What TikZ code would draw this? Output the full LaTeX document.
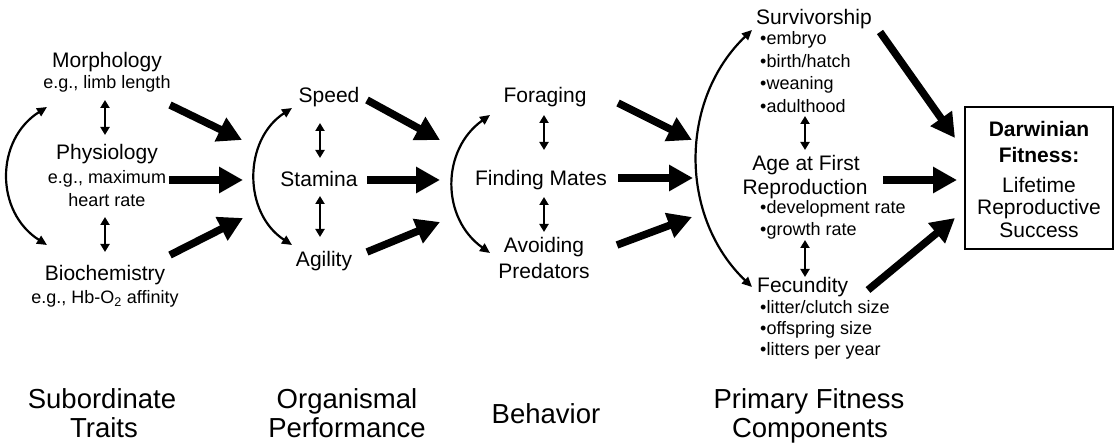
\documentclass[tikz,border=0pt]{standalone}
\usepackage{fontspec}
\setmainfont{Liberation Sans}
\usetikzlibrary{arrows.meta}
\begin{document}
\begin{tikzpicture}[x=1pt,y=-1pt,
  lab/.style={font=\fontsize{21}{25}\selectfont, anchor=base, inner sep=0pt},
  sub/.style={font=\fontsize{18}{22}\selectfont, anchor=base, inner sep=0pt},
  bul/.style={font=\fontsize{18}{22}\selectfont, anchor=base west, inner sep=0pt},
  big/.style={font=\fontsize{27.5}{30}\selectfont, anchor=base, inner sep=0pt},
  bld/.style={font=\fontsize{21}{25}\selectfont\bfseries, anchor=base, inner sep=0pt},
  thick arrow/.style={line width=7.5pt, -{Triangle[length=24pt,width=25pt]}},
  dbl/.style={line width=2.1pt, {Triangle[length=8pt,width=9pt]}-{Triangle[length=8pt,width=9pt]}},
  curv/.style={line width=2.2pt, {Triangle[length=10pt,width=9pt]}-{Triangle[length=10pt,width=9pt]}}
]
\useasboundingbox (0,0) rectangle (1116,446);

% Column 1: subordinate traits
\node[lab] (morph) at (107,68) {Morphology};
\node[sub] (morphe) at (107,89) {e.g., limb length};
\node[lab] (phys) at (107,160) {Physiology};
\node[sub] (physe1) at (107,184) {e.g., maximum};
\node[sub] (physe2) at (107,207) {heart rate};
\node[lab] (bioc) at (105,280) {Biochemistry};
\node[sub] (bioce) at (105,304) {e.g., Hb-O\textsubscript{2} affinity};

% Column 2: performance
\node[lab] (speed) at (329,103) {Speed};
\node[lab] (stam) at (319,187) {Stamina};
\node[lab] (agil) at (324,267) {Agility};

% Column 3: behavior
\node[lab] (forag) at (545,103) {Foraging};
\node[lab] (mates) at (541,186) {Finding Mates};
\node[lab] (avoid) at (544,253) {Avoiding};
\node[lab] (pred) at (544,279) {Predators};

% Column 4: fitness components
\node[lab] (surv) at (814,25) {Survivorship};
\node[bul] (b1) at (760,45) {•embryo};
\node[bul] (b2) at (760,67.5) {•birth/hatch};
\node[bul] (b3) at (760,90) {•weaning};
\node[bul] (b4) at (760,112.5) {•adulthood};
\node[lab] (age1) at (806,171) {Age at First};
\node[lab] (age2) at (805,195) {Reproduction};
\node[bul] (b5) at (760,214) {•development rate};
\node[bul] (b6) at (760,236) {•growth rate};
\node[lab, anchor=base west] (fec) at (757,293) {Fecundity};
\node[bul] (b7) at (760,313) {•litter/clutch size};
\node[bul] (b8) at (760,334) {•offspring size};
\node[bul] (b9) at (760,355) {•litters per year};

% Fitness box
\draw[line width=2pt] (965,107) rectangle (1113,249);
\node[bld] (dw) at (1039,137) {Darwinian};
\node[bld] (ft) at (1039,163) {Fitness:};
\node[lab] (lt) at (1039,193) {Lifetime};
\node[lab] (rs) at (1039,215) {Reproductive};
\node[lab] (sc) at (1039,238) {Success};

% Bottom labels
\node[big] (st1) at (102,408) {Subordinate};
\node[big] (st2) at (104,437) {Traits};
\node[big] (op1) at (347,408) {Organismal};
\node[big] (op2) at (347,437) {Performance};
\node[big] (bh) at (546,423) {Behavior};
\node[big] (pf1) at (809,408) {Primary Fitness};
\node[big] (pf2) at (810,437) {Components};

% Arrow endpoints
\coordinate (d1a) at (105,100); \coordinate (d1b) at (105,135);
\coordinate (d2a) at (105,217); \coordinate (d2b) at (105,252);
\coordinate (d3a) at (320,123); \coordinate (d3b) at (320,158);
\coordinate (d4a) at (320,196); \coordinate (d4b) at (320,237);
\coordinate (d5a) at (544,115); \coordinate (d5b) at (544,150);
\coordinate (d6a) at (544,197); \coordinate (d6b) at (544,232);
\coordinate (d7a) at (805,116); \coordinate (d7b) at (805,150);
\coordinate (d8a) at (805,240); \coordinate (d8b) at (805,277);

\draw[dbl] (d1a) -- (d1b);
\draw[dbl] (d2a) -- (d2b);
\draw[dbl] (d3a) -- (d3b);
\draw[dbl] (d4a) -- (d4b);
\draw[dbl] (d5a) -- (d5b);
\draw[dbl] (d6a) -- (d6b);
\draw[dbl] (d7a) -- (d7b);
\draw[dbl] (d8a) -- (d8b);

% curved double-headed arrows
\coordinate (c1t) at (47,107); \coordinate (c1b) at (47,245);
\coordinate (c2t) at (292,108); \coordinate (c2b) at (292,245);
\coordinate (c3t) at (490,115); \coordinate (c3b) at (490,253);
\coordinate (c4t) at (752,30); \coordinate (c4b) at (752,287);
\draw[curv] (c1t) .. controls (-5,140) and (-5,212) .. (c1b);
\draw[curv] (c2t) .. controls (243,140) and (243,213) .. (c2b);
\draw[curv] (c3t) .. controls (441,150) and (441,218) .. (c3b);
\draw[curv] (c4t) .. controls (679,100) and (679,217) .. (c4b);

% thick arrows
\coordinate (t1a) at (170,105); \coordinate (t1b) at (242,140);
\coordinate (t2a) at (169,180); \coordinate (t2b) at (243,180);
\coordinate (t3a) at (170,255); \coordinate (t3b) at (243,218);
\coordinate (t4a) at (367,100); \coordinate (t4b) at (440,140);
\coordinate (t5a) at (367,180); \coordinate (t5b) at (440,180);
\coordinate (t6a) at (367,252); \coordinate (t6b) at (440,222);
\coordinate (t7a) at (618,103); \coordinate (t7b) at (692,140);
\coordinate (t8a) at (618,178); \coordinate (t8b) at (693,178);
\coordinate (t9a) at (617,245); \coordinate (t9b) at (692,217);
\coordinate (t10a) at (880,32); \coordinate (t10b) at (955,138);
\coordinate (t11a) at (883,180); \coordinate (t11b) at (957,180);
\coordinate (t12a) at (868,290); \coordinate (t12b) at (955,218);
\foreach \i in {1,...,12} {\draw[thick arrow] (t\i a) -- (t\i b);}
\end{tikzpicture}
\end{document}
